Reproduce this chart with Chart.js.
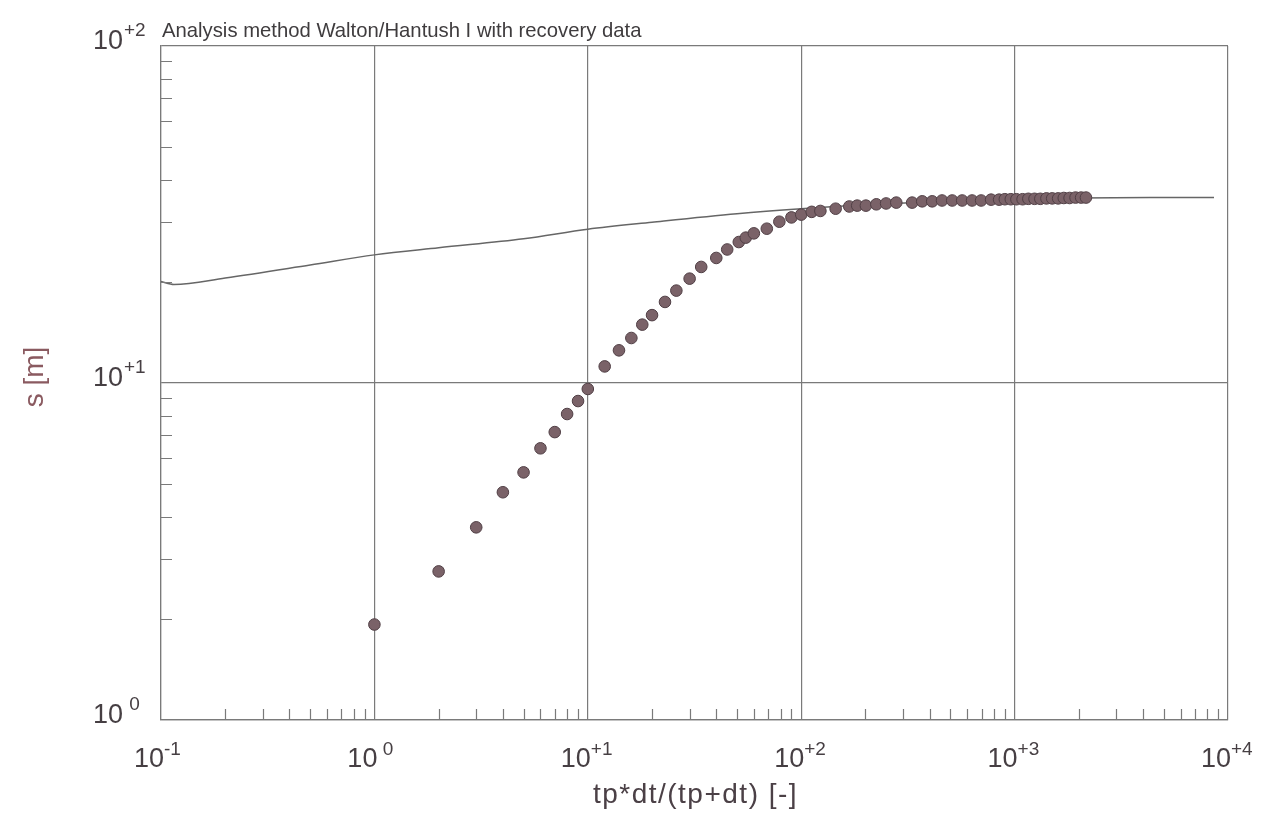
<!DOCTYPE html>
<html lang="en">
<head>
  <meta charset="UTF-8" />
  <title>Walton/Hantush recovery</title>
  <script src="https://cdn.jsdelivr.net/npm/chart.js@4.4.1/dist/chart.umd.min.js"></script>
  <style>
    html, body { margin: 0; padding: 0; background: #fff; }
    #grafico { display: block; }
  </style>
</head>
<body>
  <canvas id="grafico" width="1263" height="813"></canvas>

<script>
// measured points (recovery)
const tRatio = [1, 2, 3, 4, 5, 6, 7, 8, 9, 10, 12, 14, 16, 18, 20, 23, 26, 30, 34, 40, 45, 51, 55, 60, 69, 79, 90, 100, 112, 123, 145, 168, 183, 201, 225, 250, 279, 331, 369, 411, 457, 510, 568, 632, 697, 776, 846, 900, 960, 1020, 1090, 1160, 1240, 1320, 1410, 1500, 1600, 1700, 1810, 1930, 2050, 2160];
const drawdown = [1.92, 2.76, 3.73, 4.74, 5.43, 6.4, 7.15, 8.09, 8.84, 9.6, 11.2, 12.5, 13.6, 14.9, 15.9, 17.4, 18.8, 20.4, 22.1, 23.5, 24.9, 26.2, 27.0, 27.8, 28.7, 30.1, 31.0, 31.6, 32.2, 32.4, 32.9, 33.4, 33.6, 33.6, 33.9, 34.1, 34.3, 34.3, 34.6, 34.6, 34.8, 34.8, 34.8, 34.8, 34.8, 35.0, 35.0, 35.1, 35.1, 35.1, 35.1, 35.2, 35.2, 35.2, 35.3, 35.3, 35.3, 35.4, 35.4, 35.5, 35.5, 35.5];

// type curve
const curveX = [0.1, 0.115, 0.2, 0.5, 1, 2, 5, 10, 20, 50, 100, 200, 500, 1000, 2000, 5000, 8600];
const curveY = [20.0, 19.6, 20.5, 22.4, 24.0, 25.2, 26.8, 28.6, 30.0, 31.8, 32.9, 33.8, 34.6, 35.1, 35.4, 35.5, 35.5];

// axes
const xDecades = [0.1, 1, 10, 100, 1000, 10000];
const xExpLabels = ["-1", " 0", "+1", "+2", "+3", "+4"];
const yDecades = [1, 10, 100];
const yExpLabels = [" 0", "+1", "+2"];
const minorSteps = [2, 3, 4, 5, 6, 7, 8, 9];

const titulo = "Analysis method Walton/Hantush I with recovery data";
const tituloX = "tp*dt/(tp+dt) [-]";
const tituloY = "s [m]";

function ticksFor(decades) {
  const out = [];
  decades.forEach((d, i) => {
    out.push({ value: d });
    if (i < decades.length - 1) minorSteps.forEach(m => out.push({ value: d * m }));
  });
  return out;
}
const isDecade = v => Math.abs(Math.log10(v) - Math.round(Math.log10(v))) < 1e-9;

const corLinha = '#7a7a7a';
const corTexto = '#463f43';
const fonte = '"Liberation Sans", Arial, sans-serif';

const textos = {
  id: 'textos',
  afterDraw(chart) {
    const c = chart.ctx, a = chart.chartArea;
    const sx = chart.scales.x, sy = chart.scales.y;
    c.save();
    c.strokeStyle = corLinha;
    c.lineWidth = 1.2;
    // minor ticks inside the frame
    c.beginPath();
    sx.ticks.forEach(t => {
      if (isDecade(t.value)) return;
      const px = Math.round(sx.getPixelForValue(t.value)) + 0.5;
      c.moveTo(px, a.bottom); c.lineTo(px, a.bottom - 11);
    });
    sy.ticks.forEach(t => {
      if (isDecade(t.value)) return;
      const py = Math.round(sy.getPixelForValue(t.value)) + 0.5;
      c.moveTo(a.left, py); c.lineTo(a.left + 11, py);
    });
    c.stroke();

    c.fillStyle = corTexto;
    c.textBaseline = 'alphabetic';
    // x labels
    xDecades.forEach((d, i) => {
      const px = sx.getPixelForValue(d);
      c.font = '27px ' + fonte;
      c.textAlign = 'right';
      c.fillText('10', px + 3, a.bottom + 47);
      c.font = '19px ' + fonte;
      c.textAlign = 'left';
      c.fillText(xExpLabels[i], px + 3, a.bottom + 35);
    });
    // y labels
    yDecades.forEach((d, i) => {
      const py = sy.getPixelForValue(d);
      c.font = '27px ' + fonte;
      c.textAlign = 'right';
      c.fillText('10', a.left - 38, py + 3);
      c.font = '19px ' + fonte;
      c.textAlign = 'left';
      c.fillText(yExpLabels[i], a.left - 37, py - 10);
    });
    // title
    c.font = '20.3px ' + fonte;
    c.textAlign = 'left';
    c.fillStyle = '#3f3c3e';
    c.fillText(titulo, a.left + 1, a.top - 9);
    // x title
    c.font = '28px ' + fonte;
    c.letterSpacing = '1.5px';
    c.textAlign = 'center';
    c.fillStyle = '#4b4046';
    c.fillText(tituloX, (a.left + a.right) / 2 + 1, a.bottom + 83);
    c.letterSpacing = '0px';
    // y title
    c.translate(43, (a.top + a.bottom) / 2 - 6);
    c.rotate(-Math.PI / 2);
    c.fillStyle = '#8a5a60';
    c.font = '28px ' + fonte;
    c.fillText(tituloY, 0, 0);
    c.restore();
  }
};

const eixo = (min, max, decades) => ({
  type: 'logarithmic',
  min: min,
  max: max,
  afterBuildTicks: s => { s.ticks = ticksFor(decades); },
  ticks: { display: false },
  border: { display: true, color: corLinha, width: 1.2 },
  grid: {
    drawTicks: false,
    lineWidth: 1.2,
    color: ctx => (ctx.tick && isDecade(ctx.tick.value)) ? corLinha : 'rgba(0,0,0,0)'
  }
});

new Chart(document.getElementById('grafico'), {
  type: 'scatter',
  data: {
    datasets: [
      {
        type: 'line',
        label: 'Walton/Hantush',
        data: curveX.map((x, i) => ({ x: x, y: curveY[i] })),
        borderColor: '#666666',
        borderWidth: 1.5,
        pointRadius: 0,
        fill: false,
        cubicInterpolationMode: 'monotone',
        order: 2
      },
      {
        label: 'recovery',
        data: tRatio.map((x, i) => ({ x: x, y: drawdown[i] })),
        pointRadius: 5.8,
        backgroundColor: '#7a6268',
        borderColor: '#503f45',
        borderWidth: 1,
        order: 1
      }
    ]
  },
  options: {
    responsive: false,
    animation: false,
    devicePixelRatio: 1,
    layout: { padding: { left: 161, right: 35, top: 46, bottom: 93 } },
    plugins: { legend: { display: false }, tooltip: { enabled: false } },
    scales: {
      x: eixo(0.1, 10000, xDecades),
      y: eixo(1, 100, yDecades)
    }
  },
  plugins: [textos]
});
</script>
</body>
</html>
